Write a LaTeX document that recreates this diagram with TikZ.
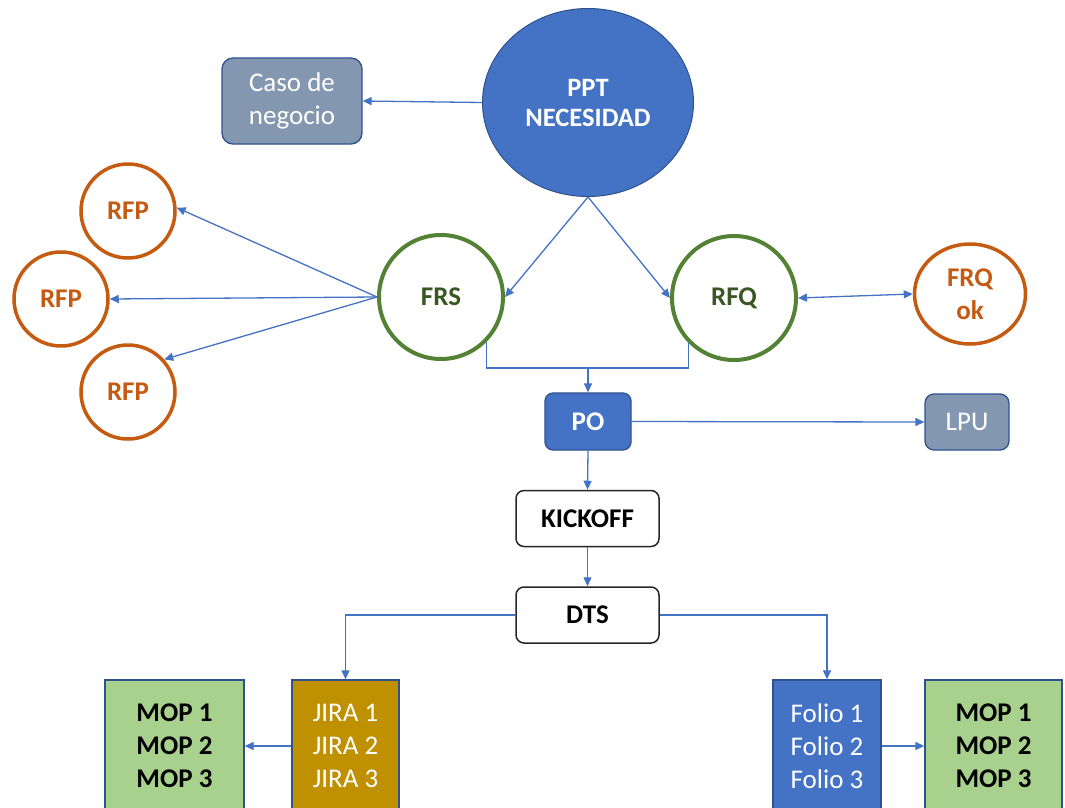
\documentclass[tikz,border=0pt]{standalone}
\usepackage{fontspec}
\setmainfont{Carlito}
\usetikzlibrary{arrows.meta,shapes.geometric}
\definecolor{cblue}{HTML}{4472C4}
\definecolor{cdblue}{HTML}{2F528F}
\definecolor{cgrey}{HTML}{8497B0}
\definecolor{cgreen}{HTML}{548235}
\definecolor{cdgreen}{HTML}{385723}
\definecolor{corange}{HTML}{C55A11}
\definecolor{cgold}{HTML}{BF9000}
\definecolor{clgreen}{HTML}{A9D18E}
\tikzset{
  txt/.style={font=\fontsize{27}{33}\selectfont, align=center, inner sep=0pt},
  btxt/.style={font=\fontsize{27}{33}\selectfont\bfseries},
  conn/.style={draw=cblue, line width=1.3pt, -{Triangle[length=9pt,width=8pt]}},
  plain/.style={draw=cblue, line width=1.3pt},
  greencirc/.style={txt, btxt, circle, draw=cgreen, line width=4pt, fill=white, minimum size=124pt, text=cdgreen},
  orangecirc/.style={txt, btxt, circle, draw=corange, line width=3.5pt, fill=white, minimum size=94pt, text=corange},
  bluebox/.style={txt, rectangle, rounded corners=8pt, draw=cdblue, line width=1.3pt, fill=cblue, text=white},
  greybox/.style={txt, rectangle, rounded corners=9pt, draw=cdblue, line width=1.3pt, fill=cgrey, text=white},
  whitebox/.style={txt, btxt, rectangle, rounded corners=8pt, draw=black!85, line width=1.5pt, fill=white, text=black, minimum width=143pt, minimum height=56pt},
  tallbox/.style={txt, rectangle, draw=cdblue, line width=1.3pt, minimum height=132pt},
}
\begin{document}
\begin{tikzpicture}[x=1pt,y=-1pt]
\useasboundingbox (0,0) rectangle (1065,808);
\clip (0,0) rectangle (1065,808);
\fill[white] (0,0) rectangle (1065,808);

% top
\node[txt, ellipse, fill=cblue, draw=cdblue, line width=1pt, minimum width=211pt, minimum height=188pt, text=white, font=\fontsize{26.5}{30}\selectfont\bfseries] (ppt) at (588,102.5) {PPT\\NECESIDAD};
\node[greybox, minimum width=140pt, minimum height=86pt, rounded corners=11pt] (caso) at (292,101) {Caso de\\negocio};

% circles
\node[greencirc] (frs) at (441,297) {FRS};
\node[greencirc] (rfq) at (734,298) {RFQ};
\node[orangecirc] (rfp1) at (128,211) {RFP};
\node[orangecirc] (rfp2) at (61,299) {RFP};
\node[orangecirc] (rfp3) at (128,392) {RFP};
\node[txt, btxt, ellipse, draw=corange, line width=3.5pt, fill=white, minimum width=111pt, minimum height=100pt, text=corange] (frq) at (970,294) {FRQ\\ok};

% middle boxes
\node[bluebox, btxt, minimum width=86pt, minimum height=57pt] (po) at (588,421.5) {PO};
\node[greybox, minimum width=84pt, minimum height=56pt] (lpu) at (967,422) {LPU};
\node[whitebox] (kick) at (587.5,518.5) {KICKOFF};
\node[whitebox] (dts) at (587.5,615) {DTS};

% bottom boxes
\node[tallbox, fill=cgold, text=white, minimum width=107pt] (jira) at (345.5,746) {JIRA 1\\JIRA 2\\JIRA 3};
\node[tallbox, btxt, fill=clgreen, text=black, minimum width=139pt] (mopl) at (174.5,746) {MOP 1\\MOP 2\\MOP 3};
\node[tallbox, fill=cblue, text=white, minimum width=108pt] (folio) at (827,746) {Folio 1\\Folio 2\\Folio 3};
\node[tallbox, btxt, fill=clgreen, text=black, minimum width=137pt] (mopr) at (993.5,746) {MOP 1\\MOP 2\\MOP 3};

% connectors
\draw[conn] (ppt.west) -- (caso.east);
\draw[conn] (ppt.south) -- (frs.east);
\draw[conn] (ppt.south) -- (rfq.west);
\draw[conn] (frs.west) -- (rfp1.4);
\draw[conn] (frs.west) -- (rfp2.east);
\draw[conn] (frs.west) -- (rfp3.42);
\draw[draw=cblue, line width=1.3pt, {Triangle[length=9pt,width=8pt]}-{Triangle[length=9pt,width=8pt]}] (rfq.east) -- (frq.west);

\coordinate (j) at (588,368);
\draw[plain] (frs.-45) -- (frs.-45 |- j) -- (rfq.-135 |- j) -- (rfq.-135);
\draw[conn] (j) -- (po.north);
\draw[conn] (po.east) -- (lpu.west);
\draw[conn] (po.south) -- (kick.north);
\draw[conn] (kick.south) -- (dts.north);
\draw[conn] (dts.west) -| (jira.north);
\draw[conn] (dts.east) -| (folio.north);
\draw[conn] (jira.west) -- (mopl.east);
\draw[conn] (folio.east) -- (mopr.west);
\end{tikzpicture}
\end{document}
